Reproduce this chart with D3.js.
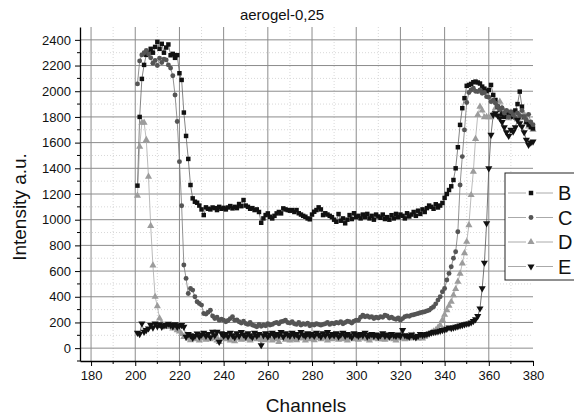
<!DOCTYPE html>
<html>
<head>
<meta charset="utf-8">
<script src="https://cdn.jsdelivr.net/npm/d3@7"></script>
<style>
  body { margin: 0; background: #fff; }
  svg { display: block; font-family: "Liberation Sans", Arial, sans-serif; }
</style>
</head>
<body>
<svg id="chart" width="574" height="419"></svg>
<script>
// channel of the first point, one point per channel
let firstChannel = 201;

let seriesNames = ['B', 'C', 'D', 'E'];

let valuesB = [
  1265, 1800, 2096, 2205, 2283, 2300, 2330, 2300, 2345, 2384,
  2330, 2369, 2300, 2340, 2364, 2280, 2291, 2260, 2281, 2140,
  2088, 1834, 1652, 1473, 1270, 1166, 1140, 1132, 1110, 1080,
  1036, 1096, 1085, 1080, 1095, 1090, 1075, 1100, 1085, 1092,
  1080, 1095, 1106, 1088, 1100, 1090, 1122, 1105, 1153, 1110,
  1100, 1085, 1090, 1075, 1080, 1060, 976, 1010, 1036, 1049,
  1023, 1010, 1030, 1049, 1060, 1049, 1088, 1080, 1075, 1070,
  1075, 1060, 1075, 1050, 1040, 1030, 1023, 1010, 1003, 1040,
  1062, 1075, 1096, 1080, 1036, 1050, 1040, 1030, 1020, 1000,
  984, 1044, 992, 1010, 972, 1000, 1036, 1005, 1050, 1020,
  1030, 1010, 1040, 1020, 1045, 1010, 1030, 1000, 1040, 1025,
  1015, 1040, 1005, 1020, 1000, 1035, 1010, 1045, 1020, 1040,
  1030, 1010, 1050, 1025, 1040, 1060, 1030, 1070, 1045, 1080,
  1060, 1090, 1110, 1100, 1085, 1120, 1095, 1110, 1130, 1170,
  1200, 1231, 1260, 1309, 1400, 1564, 1738, 1868, 1946, 2042,
  2049, 2057, 2070, 2075, 2068, 2060, 2036, 2020, 2000, 2010,
  2049, 1971, 1932, 1880, 1855, 1820, 1800, 1840, 1810, 1830,
  1800, 1850, 1900, 1997, 1880, 1800, 1760, 1740, 1720, 1710
];

let valuesC = [
  2057, 2236, 2283, 2300, 2317, 2290, 2260, 2218, 2240, 2200,
  2257, 2223, 2250, 2244, 2205, 2180, 2120, 1971, 1764, 1452,
  1109, 647, 543, 426, 465, 452, 400, 361, 348, 335,
  270, 265, 280, 296, 250, 231, 240, 218, 225, 218,
  205, 215, 230, 244, 218, 220, 205, 195, 210, 192,
  185, 200, 180, 175, 166, 185, 170, 180, 175, 190,
  180, 185, 195, 200, 190, 205, 210, 218, 200, 195,
  205, 190, 185, 200, 180, 190, 185, 195, 175, 185,
  180, 190, 185, 179, 185, 190, 200, 185, 195, 190,
  200, 195, 205, 190, 200, 210, 205, 195, 210, 218,
  218, 240, 257, 245, 250, 240, 245, 231, 240, 235,
  245, 240, 257, 250, 235, 240, 230, 225, 235, 218,
  230, 244, 250, 248, 257, 260, 265, 270, 275, 280,
  283, 290, 296, 310, 322, 345, 374, 400, 439, 465,
  530, 582, 634, 700, 750, 906, 1270, 1491, 1699, 1912,
  1990, 2010, 2023, 2000, 1997, 2010, 1984, 1990, 1958, 1953,
  1919, 1930, 1906, 1880, 1855, 1870, 1830, 1850, 1800, 1840,
  1816, 1790, 1830, 1810, 1850, 1800, 1777, 1820, 1760, 1740
];

let valuesD = [
  1187, 1569, 1756, 1756, 1621, 1335, 951, 644, 400, 327,
  231, 192, 180, 170, 165, 175, 153, 160, 140, 130,
  110, 88, 100, 75, 62, 80, 70, 90, 60, 75,
  85, 65, 90, 70, 80, 95, 60, 49, 75, 85,
  70, 90, 60, 80, 55, 75, 85, 65, 90, 70,
  80, 60, 75, 90, 70, 85, 65, 80, 62, 90,
  75, 60, 85, 70, 49, 80, 90, 65, 75, 60,
  85, 70, 62, 90, 75, 80, 60, 85, 70, 75,
  62, 80, 90, 70, 75, 85, 60, 80, 70, 90,
  75, 65, 85, 70, 80, 60, 90, 75, 70, 85,
  65, 80, 75, 90, 70, 60, 85, 75, 80, 70,
  85, 70, 65, 80, 75, 90, 70, 60, 80, 75,
  85, 70, 90, 75, 80, 100, 85, 75, 80, 75,
  90, 100, 110, 120, 130, 140, 160, 179, 220, 260,
  296, 330, 361, 413, 460, 517, 580, 660, 740, 828,
  958, 1192, 1374, 1629, 1816, 1880, 1850, 1797, 1800, 1797,
  1797, 1830, 1868, 1880, 1919, 1870, 1840, 1820, 1790, 1810,
  1830, 1800, 1780, 1810, 1790, 1820, 1760, 1725, 1740, 1700
];

let valuesE = [
  119, 109, 192, 127, 140, 153, 179, 160, 192, 170,
  185, 166, 175, 180, 190, 179, 170, 185, 166, 175,
  179, 166, 88, 110, 100, 80, 95, 114, 90, 105,
  120, 95, 110, 85, 127, 100, 127, 49, 115, 95,
  110, 90, 120, 100, 85, 115, 95, 125, 105, 90,
  115, 100, 85, 120, 95, 110, 23, 100, 115, 90,
  105, 120, 95, 110, 100, 125, 90, 115, 105, 95,
  120, 100, 110, 90, 125, 105, 95, 115, 100, 110,
  95, 120, 105, 90, 115, 100, 125, 95, 110, 100,
  115, 90, 105, 120, 95, 110, 100, 85, 115, 105,
  95, 110, 100, 120, 90, 101, 110, 95, 105, 88,
  100, 115, 95, 105, 90, 110, 100, 95, 105, 94,
  140, 100, 95, 88, 105, 90, 83, 95, 110, 101,
  105, 110, 114, 120, 125, 127, 130, 135, 140, 145,
  150, 161, 155, 160, 166, 170, 175, 179, 185, 190,
  192, 200, 210, 224, 250, 309, 465, 665, 971, 1400,
  1660, 1816, 1829, 1810, 1790, 1760, 1720, 1680, 1652, 1699,
  1686, 1720, 1777, 1750, 1725, 1680, 1621, 1582, 1600, 1608
];

let xTicks = [180, 200, 220, 240, 260, 280, 300, 320, 340, 360, 380];
let yTicks = [0, 200, 400, 600, 800, 1000, 1200, 1400, 1600, 1800, 2000, 2200, 2400];

let markerFill = {'B': '#111', 'C': '#555', 'D': '#9c9c9c', 'E': '#111'};
let lineColor = {'B': '#666', 'C': '#777', 'D': '#aaa', 'E': '#555'};
let markerShape = {'B': d3.symbolSquare, 'C': d3.symbolCircle, 'D': d3.symbolTriangle, 'E': d3.symbolTriangle};
let markerSize = {'B': 20, 'C': 19, 'D': 22, 'E': 22};

let svg = d3.select('#chart');
let xScale = d3.scaleLinear().domain([175, 380]).range([80, 533]);
let yScale = d3.scaleLinear().domain([-100, 2500]).range([361, 27]);

let series = {
  'B': valuesB, 'C': valuesC, 'D': valuesD, 'E': valuesE
};

// grid: minor dotted, major solid
let grid = svg.append('g');
grid.selectAll('line.xminor')
  .data(d3.range(190, 380, 20))
  .join('line')
  .attr('x1', d => xScale(d)).attr('x2', d => xScale(d))
  .attr('y1', yScale(2500)).attr('y2', yScale(-100))
  .attr('stroke', '#d8d8d8').attr('stroke-dasharray', '1,2');
grid.selectAll('line.yminor')
  .data(d3.range(100, 2500, 200))
  .join('line')
  .attr('x1', xScale(175)).attr('x2', xScale(380))
  .attr('y1', d => yScale(d)).attr('y2', d => yScale(d))
  .attr('stroke', '#d8d8d8').attr('stroke-dasharray', '1,2');
grid.selectAll('line.xmajor')
  .data(xTicks.filter(d => d < 380))
  .join('line')
  .attr('x1', d => xScale(d)).attr('x2', d => xScale(d))
  .attr('y1', yScale(2500)).attr('y2', yScale(-100))
  .attr('stroke', '#8c8c8c').attr('stroke-width', 1);
grid.selectAll('line.ymajor')
  .data(yTicks)
  .join('line')
  .attr('x1', xScale(175)).attr('x2', xScale(380))
  .attr('y1', d => yScale(d)).attr('y2', d => yScale(d))
  .attr('stroke', '#8c8c8c').attr('stroke-width', 1);

// series
let line = d3.line()
  .x((d, i) => xScale(firstChannel + i))
  .y(d => yScale(d));

let order = ['D', 'B', 'C', 'E'];
order.forEach(name => {
  let vals = series[name];
  svg.append('path')
    .datum(vals)
    .attr('d', line)
    .attr('fill', 'none')
    .attr('stroke', lineColor[name])
    .attr('stroke-width', 0.8);
});
order.forEach(name => {
  let vals = series[name];
  let sym = d3.symbol().type(markerShape[name]).size(markerSize[name]);
  svg.append('g')
    .selectAll('path')
    .data(vals)
    .join('path')
    .attr('d', sym)
    .attr('transform', (d, i) => `translate(${xScale(firstChannel + i)},${yScale(d)})` + (name === 'E' ? ' rotate(180)' : ''))
    .attr('fill', markerFill[name]);
});

// axes
let xAxis = svg.append('g')
  .attr('transform', `translate(0,${yScale(-100)})`)
  .call(d3.axisBottom(xScale).tickValues(xTicks).tickFormat(d3.format('d'))
    .tickSize(5).tickSizeOuter(0).tickPadding(5));
xAxis.selectAll('g.minor')
  .data(d3.range(190, 380, 20))
  .join('line')
  .attr('x1', d => xScale(d)).attr('x2', d => xScale(d))
  .attr('y1', 0).attr('y2', 3).attr('stroke', '#000');

let yAxis = svg.append('g')
  .attr('transform', `translate(${xScale(175)},0)`)
  .call(d3.axisLeft(yScale).tickValues(yTicks).tickFormat(d3.format('d'))
    .tickSize(5).tickSizeOuter(0).tickPadding(4));
yAxis.selectAll('g.minor')
  .data(d3.range(-100, 2500, 200))
  .join('line')
  .attr('x1', 0).attr('x2', -3)
  .attr('y1', d => yScale(d)).attr('y2', d => yScale(d)).attr('stroke', '#000');

[xAxis, yAxis].forEach(a => {
  a.select('.domain').attr('stroke', '#000').attr('stroke-width', 1.3);
  a.selectAll('.tick line').attr('stroke', '#000');
  a.selectAll('.tick text').attr('font-size', 13).attr('fill', '#111')
    .attr('font-family', '"Liberation Sans", Arial, sans-serif');
});

// titles
svg.append('text')
  .attr('x', 282).attr('y', 20)
  .attr('text-anchor', 'middle')
  .attr('font-size', 15).attr('fill', '#111')
  .text('aerogel-0,25');
svg.append('text')
  .attr('x', 306).attr('y', 412)
  .attr('text-anchor', 'middle')
  .attr('font-size', 19).attr('fill', '#111')
  .text('Channels');
svg.append('text')
  .attr('transform', 'translate(26,207) rotate(-90)')
  .attr('text-anchor', 'middle')
  .attr('font-size', 19).attr('fill', '#111')
  .text('Intensity a.u.');

// legend
let legend = svg.append('g').attr('transform', 'translate(505,173)');
legend.append('rect')
  .attr('x', 0).attr('y', 0)
  .attr('width', 90).attr('height', 107)
  .attr('fill', '#fff').attr('stroke', '#222').attr('stroke-width', 1);
seriesNames.forEach((name, i) => {
  let cy = 20 + i * 24.5;
  legend.append('line')
    .attr('x1', 3).attr('x2', 48).attr('y1', cy).attr('y2', cy)
    .attr('stroke', '#aaa').attr('stroke-width', 1);
  legend.append('rect')
    .attr('x', 21).attr('y', cy - 3).attr('width', 10).attr('height', 6)
    .attr('fill', '#fff');
  legend.append('path')
    .attr('d', d3.symbol().type(markerShape[name]).size(markerSize[name])())
    .attr('transform', `translate(26,${cy})` + (name === 'E' ? ' rotate(180)' : ''))
    .attr('fill', markerFill[name]);
  legend.append('text')
    .attr('x', 53).attr('y', cy + 7)
    .attr('font-size', 20).attr('fill', '#111')
    .text(name);
});
</script>
</body>
</html>
